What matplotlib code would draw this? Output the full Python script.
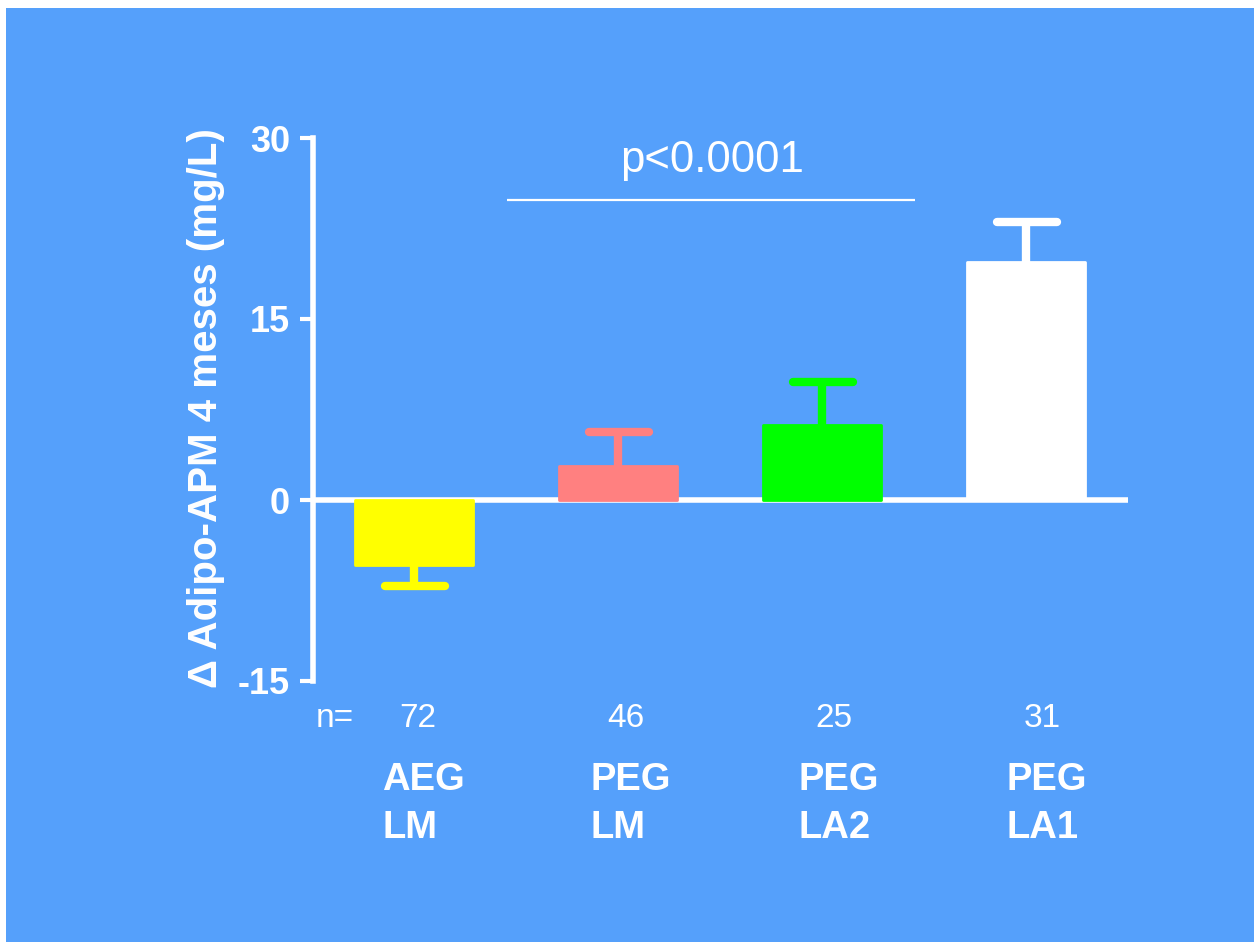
import matplotlib
matplotlib.use("Agg")
import matplotlib.pyplot as plt
from matplotlib.patches import Rectangle

plt.rcParams['font.family'] = ['Liberation Sans', 'DejaVu Sans']

# Data
groups_top = ["AEG", "PEG", "PEG", "PEG"]
groups_bottom = ["LM", "LM", "LA2", "LA1"]
n_values = [72, 46, 25, 31]
means = [-5.4, 2.8, 6.2, 19.7]
sem = [1.7, 2.8, 3.6, 3.3]
bar_colors = ["#FFFF00", "#FF8080", "#00FF00", "#FFFFFF"]
yticks = [-15, 0, 15, 30]
p_text = "p<0.0001"
ylabel = "\u0394 Adipo-APM 4 meses (mg/L)"

BG = "#55A0FB"
W, H = 1254, 942

fig = plt.figure(figsize=(W / 100, H / 100), dpi=100, facecolor="white")
fig.patches.append(Rectangle((6 / W, 0), 1 - 6 / W, 1 - 8 / H,
                             transform=fig.transFigure, facecolor=BG,
                             edgecolor="none", zorder=-10))

ax = fig.add_axes([313 / W, (H - 681) / H, 815 / W, 543 / H])
ax.set_facecolor("none")
ax.set_xlim(-0.495, 3.5)
ax.set_ylim(-15, 30)

x = list(range(len(means)))

# zero line
ax.axhline(0, color="white", lw=4, zorder=1, solid_capstyle="butt")

# bars
ax.bar(x, means, width=0.58, color=bar_colors, edgecolor=bar_colors,
       linewidth=2, joinstyle="round", zorder=3)

# one-sided error bars (away from zero)
for xi, m, e, c in zip(x, means, sem, bar_colors):
    end = m + e if m >= 0 else m - e
    ax.vlines(xi, m, end, color=c, lw=6, zorder=2)
    ax.hlines(end, xi - 0.14, xi + 0.15, color=c, lw=6, zorder=2,
              capstyle="round")

# significance line and text
ax.hlines(24.9, 0.456, 2.456, color="white", lw=1.6, zorder=2)
ax.text(1.46, 27.2, p_text, ha="center", va="baseline", fontsize=31.5,
        color="white")

# spines and ticks
for s in ["top", "right", "bottom"]:
    ax.spines[s].set_visible(False)
ax.spines["left"].set_color("white")
ax.spines["left"].set_linewidth(4)
ax.set_xticks([])
ax.set_yticks(yticks)
ax.set_yticklabels([str(t) for t in yticks])
ax.tick_params(axis="y", colors="white", length=9.5, width=3, pad=7,
               labelsize=26)
for lbl in ax.get_yticklabels():
    lbl.set_fontweight("bold")

# y label
fig.text(206 / W, 1 - 408 / H, ylabel, rotation=90, ha="center", va="center",
         fontsize=29, fontweight="bold", color="white")

# sample sizes and group labels
ax.text(-0.39, -18.1, "n=", ha="center", va="center", fontsize=24,
        color="white", clip_on=False)
for i, n in enumerate(n_values):
    ax.text(i + 0.02 + 0.02 * i, -18.1, str(n), ha="center", va="center",
            fontsize=24, color="white", clip_on=False)
for i, (a, b) in enumerate(zip(groups_top, groups_bottom)):
    xl = i - 0.155 + 0.02 * i
    ax.text(xl, -24.0, a, ha="left", va="baseline", fontsize=27.5,
            fontweight="bold", color="white", clip_on=False)
    ax.text(xl, -28.0, b, ha="left", va="baseline", fontsize=27.5,
            fontweight="bold", color="white", clip_on=False)

fig.savefig("out.png", dpi=100, facecolor="white")
